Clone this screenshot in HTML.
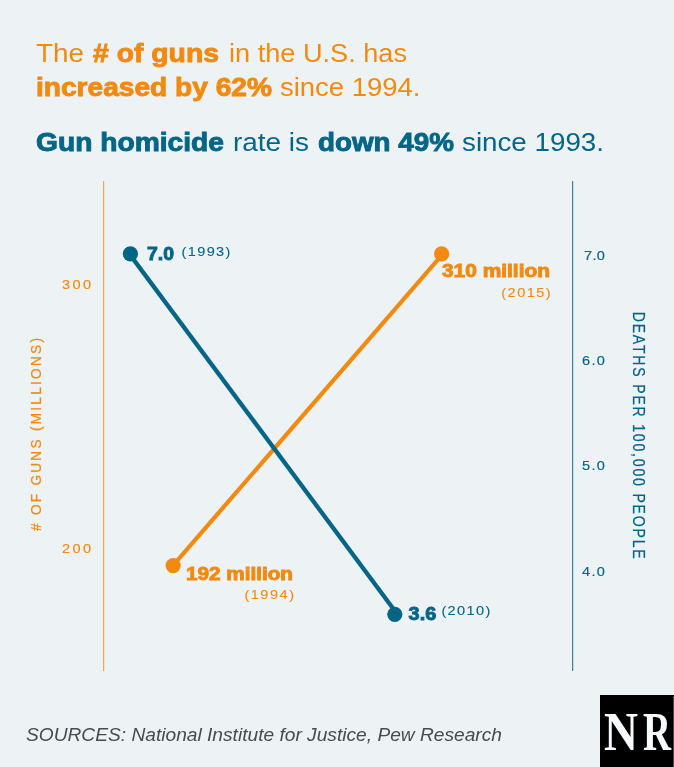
<!DOCTYPE html>
<html><head><meta charset="utf-8">
<style>
html,body{margin:0;padding:0;background:#edf2f5;}
body{width:674px;height:767px;overflow:hidden;}
svg{display:block;will-change:transform;}
text{font-family:"Liberation Sans",sans-serif;}
</style></head>
<body>
<svg width="674" height="767" viewBox="0 0 674 767">
<rect x="0" y="0" width="674" height="767" fill="#edf2f5"/>

<!-- header -->
<g fill="#f28a10" font-size="26" stroke="#f28a10" stroke-width="0">
  <text x="36" y="62" textLength="48" lengthAdjust="spacingAndGlyphs">The</text>
  <text x="93" y="62" font-weight="bold" stroke-width="0.9" textLength="126" lengthAdjust="spacingAndGlyphs"># of guns</text>
  <text x="229" y="62" textLength="178" lengthAdjust="spacingAndGlyphs">in the U.S. has</text>
  <text x="36" y="95.5" font-weight="bold" stroke-width="0.9" textLength="236" lengthAdjust="spacingAndGlyphs">increased by 62%</text>
  <text x="280" y="95.5" textLength="140.5" lengthAdjust="spacingAndGlyphs">since 1994.</text>
</g>
<g fill="#046587" font-size="26" stroke="#046587" stroke-width="0">
  <text x="36" y="150.5" font-weight="bold" stroke-width="0.9" textLength="188" lengthAdjust="spacingAndGlyphs">Gun homicide</text>
  <text x="233" y="150.5" textLength="76" lengthAdjust="spacingAndGlyphs">rate is</text>
  <text x="318" y="150.5" font-weight="bold" stroke-width="0.9" textLength="136" lengthAdjust="spacingAndGlyphs">down 49%</text>
  <text x="462" y="150.5" textLength="142" lengthAdjust="spacingAndGlyphs">since 1993.</text>
</g>

<!-- axes -->
<rect x="103" y="181" width="1.2" height="490" fill="#f3a458"/>
<rect x="572" y="181" width="1.2" height="490" fill="#3f7f98"/>

<!-- left ticks -->
<g fill="#f28a10" font-size="13" stroke="#f28a10" stroke-width="0.15">
  <text transform="translate(62,289) scale(1.12,1)" textLength="25.9" lengthAdjust="spacing">300</text>
  <text transform="translate(62,552.5) scale(1.12,1)" textLength="25.9" lengthAdjust="spacing">200</text>
  <text transform="translate(41,531) rotate(-90) scale(0.88,1)" font-size="15.5" stroke-width="0.25" stroke="#f28a10" textLength="219.3" lengthAdjust="spacing"># OF GUNS (MILLIONS)</text>
</g>
<!-- right ticks -->
<g fill="#046587" font-size="13" stroke="#046587" stroke-width="0.15">
  <text transform="translate(584,260) scale(1.12,1)" textLength="18.7" lengthAdjust="spacing">7.0</text>
  <text transform="translate(582,365) scale(1.12,1)" textLength="20.5" lengthAdjust="spacing">6.0</text>
  <text transform="translate(582,470) scale(1.12,1)" textLength="20.5" lengthAdjust="spacing">5.0</text>
  <text transform="translate(582,576) scale(1.12,1)" textLength="20.5" lengthAdjust="spacing">4.0</text>
  <text transform="translate(633,311.7) rotate(90) scale(0.88,1)" font-size="16" stroke-width="0.25" stroke="#046587" textLength="280.7" lengthAdjust="spacing">DEATHS PER 100,000 PEOPLE</text>
</g>

<!-- lines -->
<line x1="172.9" y1="565.55" x2="442.85" y2="253.95" stroke="#f28a10" stroke-width="4.2"/>
<line x1="129.4" y1="253.85" x2="397.35" y2="614.3" stroke="#046587" stroke-width="4.3"/>
<circle cx="173.15" cy="565.55" r="7.6" fill="#f28a10"/>
<circle cx="441.65" cy="253.95" r="7.6" fill="#f28a10"/>
<circle cx="130.4" cy="253.85" r="7.6" fill="#046587"/>
<circle cx="394.8" cy="614.3" r="7.6" fill="#046587"/>

<!-- data labels -->
<g fill="#046587">
  <text x="147" y="259.5" font-size="18" stroke="#046587" stroke-width="0.9" font-weight="bold" textLength="27" lengthAdjust="spacingAndGlyphs">7.0</text>
  <text transform="translate(181.5,256) scale(1.12,1)" font-size="13" stroke="#046587" stroke-width="0.1" textLength="43.7" lengthAdjust="spacing">(1993)</text>
  <text x="408.6" y="620" font-size="18" stroke="#046587" stroke-width="0.9" font-weight="bold" textLength="27.6" lengthAdjust="spacingAndGlyphs">3.6</text>
  <text transform="translate(441.4,615) scale(1.12,1)" font-size="13" stroke="#046587" stroke-width="0.1" textLength="43.7" lengthAdjust="spacing">(2010)</text>
</g>
<g fill="#f28a10">
  <text x="442" y="277.4" font-size="18" font-weight="bold" stroke="#f28a10" stroke-width="0.9" textLength="108" lengthAdjust="spacingAndGlyphs">310 million</text>
  <text transform="translate(501.3,296.5) scale(1.12,1)" font-size="13" stroke="#f28a10" stroke-width="0.1" textLength="44.1" lengthAdjust="spacing">(2015)</text>
  <text x="186" y="579.6" font-size="18" font-weight="bold" stroke="#f28a10" stroke-width="0.9" textLength="107" lengthAdjust="spacingAndGlyphs">192 million</text>
  <text transform="translate(244.4,598.5) scale(1.12,1)" font-size="13" stroke="#f28a10" stroke-width="0.1" textLength="44.3" lengthAdjust="spacing">(1994)</text>
</g>

<!-- footer -->
<text x="26" y="740.8" font-size="19" font-style="italic" fill="#454b51" textLength="476" lengthAdjust="spacingAndGlyphs">SOURCES: National Institute for Justice, Pew Research</text>

<!-- NR logo -->
<rect x="600" y="695" width="74" height="72" fill="#000"/>
<rect x="673" y="697" width="1" height="70" fill="#4a4a4a"/>
<g font-weight="bold" font-size="54" fill="#f7fbfd"><text x="604" y="750" style="font-family:'Liberation Serif',serif" textLength="34" lengthAdjust="spacingAndGlyphs">N</text><text x="643" y="750" style="font-family:'Liberation Serif',serif" textLength="28" lengthAdjust="spacingAndGlyphs">R</text></g>
</svg>
</body></html>
